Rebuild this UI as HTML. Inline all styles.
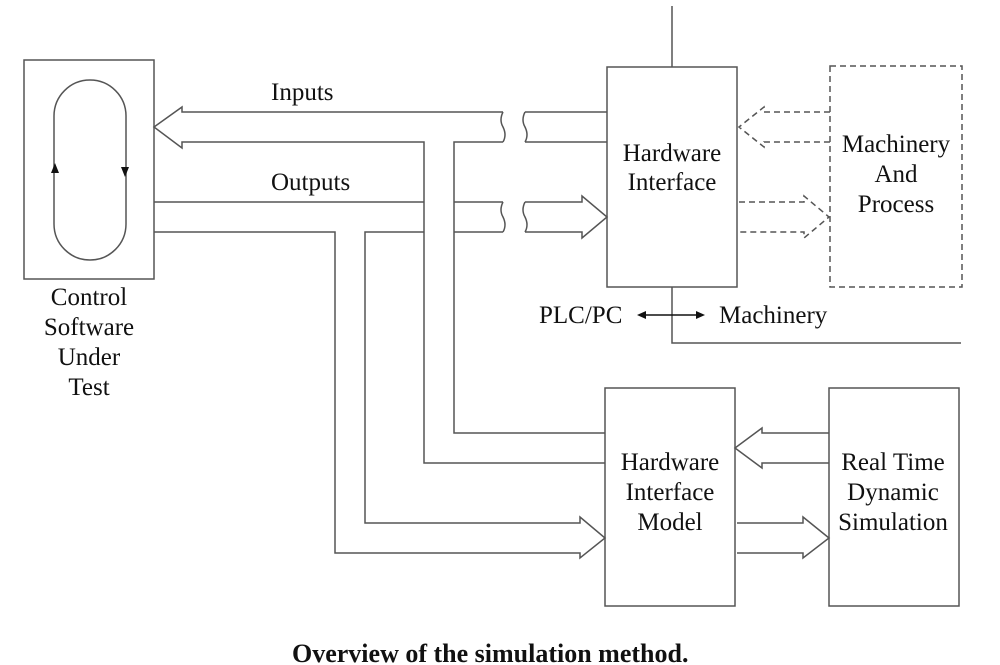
<!DOCTYPE html>
<html><head><style>body{margin:0;background:#fff}svg{display:block}text{font-family:"Liberation Serif",serif;font-size:25px;fill:#111}</style></head>
<body>
<svg width="1000" height="665" viewBox="0 0 1000 665" xmlns="http://www.w3.org/2000/svg">
<g fill="none" stroke="#555" stroke-width="1.5">
<rect x="24" y="60" width="130" height="219"/>
<rect x="54" y="80" width="72" height="180" rx="36" ry="36"/>
<path d="M503,112 H182 V107 L154,127 L182,148 V142 H424 V463 H605"/>
<path d="M503,142 H454 V433 H605"/>
<path d="M503,112 q-4,8 0,15 q4,8 0,15"/>
<path d="M525,112 q-4,8 0,15 q4,8 0,15 M525,112 H607 M525,142 H607"/>
<path d="M154,202 H424 M154,232 H335 V553 H580 V558 L605,538 L580,517 V523 H365 V232 H424"/>
<path d="M454,202 H503 M454,232 H503"/>
<path d="M503,202 q-4,8 0,15 q4,8 0,15"/>
<path d="M525,202 q-4,8 0,15 q4,8 0,15 M525,202 H582 V196 L607,217 L582,238 V232 H525"/>
<rect x="607" y="67" width="130" height="220"/>
<path d="M672,6 V67 M672,287 V343 H961"/>
<rect x="605" y="388" width="130" height="218"/>
<rect x="829" y="388" width="130" height="218"/>
<path d="M829,433 H762 V428 L735,448 L762,468 V463 H829"/>
<path d="M737,523 H803 V517 L829,538 L803,558 V553 H737"/>
</g>
<g fill="none" stroke="#555" stroke-width="1.5" stroke-dasharray="6,4">
<rect x="830" y="66" width="132" height="221"/>
<path d="M830,112 H764 V107 L739,127 L764,147 V142 H830"/>
<path d="M739,202 H804 V196 L829,217 L804,238 V232 H739"/>
</g>
<g fill="#111">
<path d="M55,163 L51,173 L59,173 Z"/>
<path d="M125,177 L121,167 L129,167 Z"/>
<path d="M637,315 L646,311 L646,319 Z"/>
<path d="M705,315 L696,311 L696,319 Z"/>
</g>
<line x1="645" y1="315" x2="697" y2="315" stroke="#111" stroke-width="1.5"/>
<text x="271" y="100">Inputs</text>
<text x="271" y="190">Outputs</text>
<g text-anchor="middle">
<text x="89" y="305">Control</text>
<text x="89" y="335">Software</text>
<text x="89" y="365">Under</text>
<text x="89" y="395">Test</text>
<text x="672" y="161">Hardware</text>
<text x="672" y="190">Interface</text>
<text x="896" y="152">Machinery</text>
<text x="896" y="182">And</text>
<text x="896" y="212">Process</text>
<text x="670" y="470">Hardware</text>
<text x="670" y="500">Interface</text>
<text x="670" y="530">Model</text>
<text x="893" y="470">Real Time</text>
<text x="893" y="500">Dynamic</text>
<text x="893" y="530">Simulation</text>
</g>
<text x="539" y="323">PLC/PC</text>
<text x="719" y="323">Machinery</text>
<text x="292" y="662" style="font-weight:bold;font-size:26px">Overview of the simulation method.</text>
</svg>
</body></html>
